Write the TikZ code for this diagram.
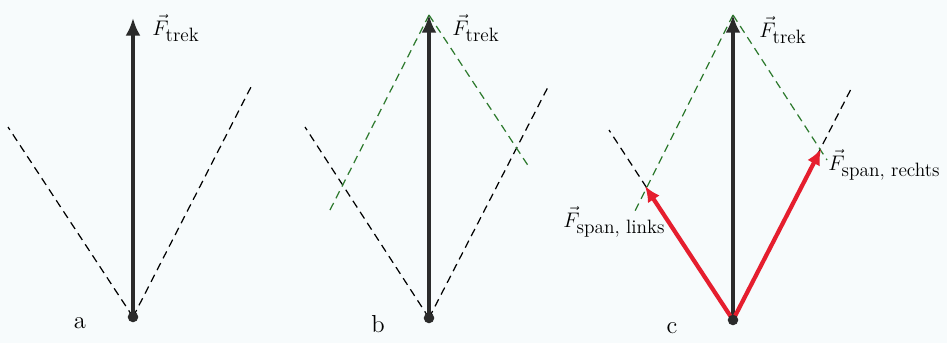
\documentclass[tikz,border=0pt]{standalone}
\usepackage{amsmath}
\usetikzlibrary{arrows.meta}
\DeclareMathSizes{13}{13}{11}{8}
\definecolor{fgray}{HTML}{2B2B2B}
\definecolor{fred}{HTML}{E51E2E}
\definecolor{fgreen}{HTML}{2E7A2E}
\definecolor{paper}{HTML}{F7FBFC}
\tikzset{
  arr/.style={-{Latex[length=10pt,width=8.5pt]},line width=2.2pt,draw=fgray},
  rarr/.style={-{Latex[length=9pt,width=8pt]},line width=2.4pt,draw=fred},
  dsh/.style={line width=0.7pt,draw=black,dash pattern=on 4.5pt off 3pt},
  gdsh/.style={dsh,draw=fgreen},
  pt/.style={circle,fill=fgray,inner sep=0pt,minimum size=6pt},
  lbl/.style={font=\fontsize{13}{15}\selectfont,inner sep=0pt,anchor=base west},
  tag/.style={font=\fontsize{14}{16}\selectfont,inner sep=0pt,anchor=base},
}
\begin{document}
\begin{tikzpicture}[x=0.02cm,y=0.02cm]
  \fill[paper] (0,0) rectangle (947,343);
  \useasboundingbox (0,0) rectangle (947,343);
  % a
  \coordinate (oa) at (133,26); \coordinate (ta) at (133,325);
  \coordinate (la) at (8,216); \coordinate (ra) at (252,258);
  \draw[dsh] (oa) -- (la); \draw[dsh] (oa) -- (ra);
  \draw[arr] (oa) -- (ta);
  \node[pt] (da) at (oa) {};
  \node[lbl] (fa) at (152,308) {$\vec{F}_{\text{trek}}$};
  \node[tag] (na) at (80,15) {a};
  % b
  \coordinate (ob) at (429,25); \coordinate (tb) at (429,328);
  \coordinate (lb) at (305,216); \coordinate (rb) at (548,256);
  \coordinate (glb) at (329,131); \coordinate (grb) at (529,176);
  \draw[dsh] (ob) -- (lb); \draw[dsh] (ob) -- (rb);
  \draw[gdsh] (tb) -- (glb); \draw[gdsh] (tb) -- (grb);
  \draw[arr] (ob) -- (tb);
  \node[pt] (db) at (ob) {};
  \node[lbl] (fb) at (452,308) {$\vec{F}_{\text{trek}}$};
  \node[tag] (nb) at (378,11) {b};
  % c
  \coordinate (oc) at (733,23); \coordinate (tc) at (733,328);
  \coordinate (lc) at (609,213); \coordinate (rc) at (852,256);
  \coordinate (glc) at (633,128); \coordinate (grc) at (827,183);
  \coordinate (pl) at (645,157); \coordinate (pr) at (821,194);
  \draw[dsh] (oc) -- (lc); \draw[dsh] (oc) -- (rc);
  \draw[gdsh] (tc) -- (glc); \draw[gdsh] (tc) -- (grc);
  \draw[arr] (oc) -- (tc);
  \draw[rarr] (oc) -- (pl); \draw[rarr] (oc) -- (pr);
  \node[pt] (dc) at (oc) {};
  \node[lbl] (fc) at (759,306) {$\vec{F}_{\text{trek}}$};
  \node[lbl] (fr) at (828,173) {$\vec{F}_{\text{span, rechts}}$};
  \node[lbl] (fl) at (563,116) {$\vec{F}_{\text{span, links}}$};
  \node[tag] (nc) at (672,10) {c};
\end{tikzpicture}
\end{document}
